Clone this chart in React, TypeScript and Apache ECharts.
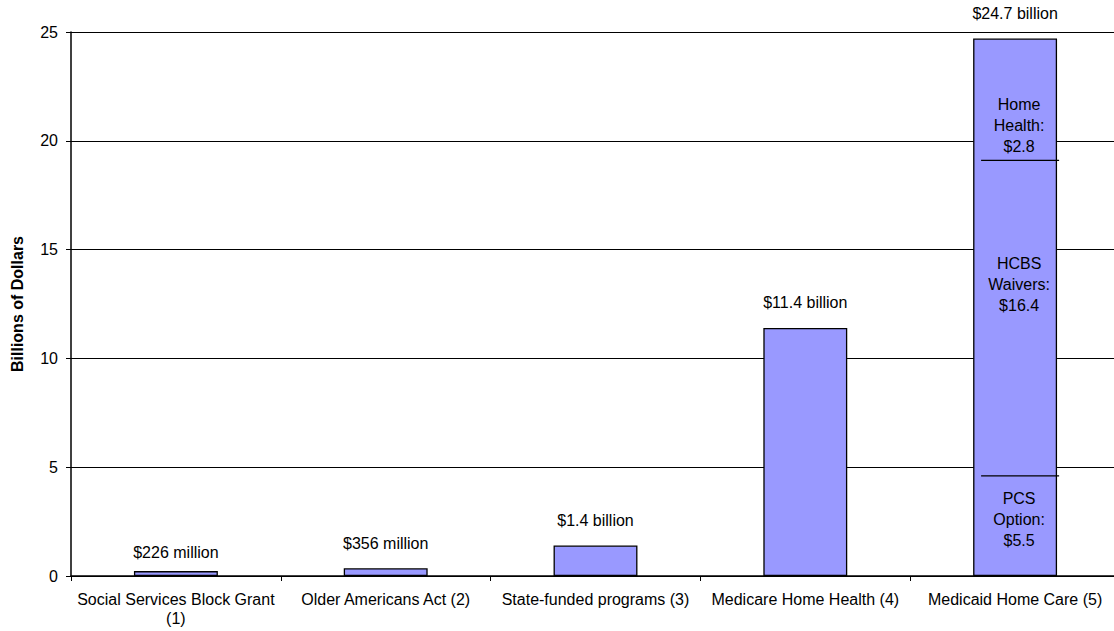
import React, { useEffect, useRef } from "react";
import * as echarts from "echarts";

const categories = [
  "Social Services Block Grant\n(1)",
  "Older Americans Act (2)",
  "State-funded programs (3)",
  "Medicare Home Health (4)",
  "Medicaid Home Care (5)",
];
const values = [0.226, 0.356, 1.4, 11.4, 24.7];
const valueLabels = ["$226 million", "$356 million", "$1.4 billion", "$11.4 billion", "$24.7 billion"];
const yTicks = [0, 5, 10, 15, 20, 25];
// Medicaid Home Care breakdown (drawn inside the last bar)
const segmentLabels = ["Home\nHealth:\n$2.8", "HCBS\nWaivers:\n$16.4", "PCS\nOption:\n$5.5"];
const segmentLabelAt = [20.7, 13.4, 2.6];
const dividerAt = [19.1, 4.6];

const FONT = "'Liberation Sans', Arial, sans-serif";

export default function App() {
  const ref = useRef<HTMLDivElement>(null);
  useEffect(() => {
    document.body.style.margin = "0";
    document.body.style.overflow = "hidden";
    const chart = echarts.init(ref.current!, null, { renderer: "svg" });
    chart.setOption({
      animation: false,
      backgroundColor: "#fff",
      textStyle: { fontFamily: FONT },
      grid: { left: 71, top: 32, bottom: 55, right: 0, containLabel: false },
      xAxis: {
        type: "category",
        data: categories,
        axisLine: { lineStyle: { color: "#000", width: 1.5 } },
        axisTick: { show: true, alignWithLabel: false, length: 5, lineStyle: { color: "#000" } },
        axisLabel: { interval: 0, color: "#000", fontSize: 16, lineHeight: 19, margin: 14, fontFamily: FONT },
      },
      yAxis: {
        type: "value",
        min: yTicks[0],
        max: yTicks[yTicks.length - 1],
        interval: 5,
        name: "Billions of Dollars",
        nameLocation: "middle",
        nameGap: 46,
        nameTextStyle: {
          fontWeight: "bold",
          fontSize: 16,
          color: "#000",
          fontFamily: FONT,
        },
        axisLine: { show: true, lineStyle: { color: "#000", width: 1.5 } },
        axisTick: { show: true, length: 5, lineStyle: { color: "#000" } },
        axisLabel: { color: "#000", fontSize: 16, margin: 13, fontFamily: FONT },
        splitLine: { show: true, lineStyle: { color: "#000", width: 1 } },
      },
      series: [
        {
          type: "bar",
          barWidth: "40%",
          data: values.map((v, i) => ({
            value: v,
            label: {
              show: true,
              position: "top",
              distance: i === 0 ? 11 : 17,
              formatter: valueLabels[i],
              color: "#000",
              fontSize: 16,
              fontFamily: FONT,
            },
          })),
          itemStyle: { color: "#9999FF", borderColor: "#000", borderWidth: 1.3 },
        },
      ],
    });

    const last = categories.length - 1;
    const graphics: any[] = [];
    dividerAt.forEach((v) => {
      const p = chart.convertToPixel({ gridIndex: 0 }, [last, v]) as number[];
      graphics.push({
        type: "line",
        shape: { x1: p[0] - 34, y1: p[1], x2: p[0] + 44, y2: p[1] },
        style: { stroke: "#000", lineWidth: 1.2 },
        z: 10,
      });
    });
    segmentLabels.forEach((t, i) => {
      const p = chart.convertToPixel({ gridIndex: 0 }, [last, segmentLabelAt[i]]) as number[];
      graphics.push({
        type: "text",
        x: p[0] + 4,
        y: p[1],
        style: {
          text: t,
          fill: "#000",
          font: `16px ${FONT}`,
          lineHeight: 21,
          align: "center",
          verticalAlign: "middle",
        },
        z: 10,
      });
    });
    chart.setOption({ graphic: graphics });

    return () => chart.dispose();
  }, []);
  return <div ref={ref} style={{ width: 1120, height: 631 }} />;
}
